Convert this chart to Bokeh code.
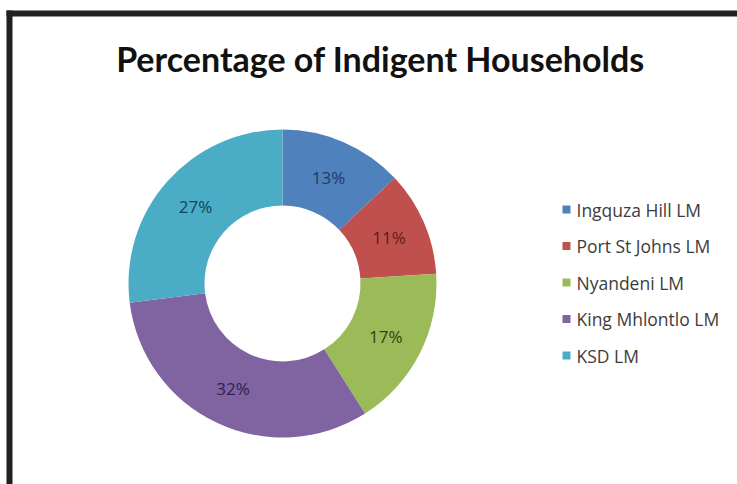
import math

from bokeh.core.properties import value
from bokeh.embed import file_html
from bokeh.models import BoxAnnotation, ColumnDataSource, Range1d
from bokeh.plotting import figure
from bokeh.resources import INLINE

# ---- data -------------------------------------------------------------
title = "Percentage of Indigent Households"
municipalities = ["Ingquza Hill LM", "Port St Johns LM", "Nyandeni LM",
                  "King Mhlontlo LM", "KSD LM"]
shares = [13, 11, 17, 32, 27]  # percent of indigent households
slice_colors = ["#4F81BD", "#C0504D", "#9BBB59", "#8064A2", "#4BACC6"]
label_colors = ["#1E3A66", "#5C1C1C", "#2F4212", "#2F2050", "#0E4557"]

# ---- canvas (1 data unit == 1 screen pixel, y measured from the top) ---
W, H = 737, 484


def sy(y_from_top):
    return H - y_from_top


p = figure(width=W, height=H, output_backend="svg", toolbar_location=None,
           x_range=Range1d(0, W), y_range=Range1d(0, H),
           min_border=0, min_border_left=0, min_border_right=0,
           min_border_top=0, min_border_bottom=0)
p.axis.visible = False
p.grid.visible = False
p.outline_line_color = None
p.background_fill_color = "white"
p.border_fill_color = "white"

# dark frame along the top and left edge
p.add_layout(BoxAnnotation(left=6, right=W, top=sy(10), bottom=sy(16),
                           fill_color="#231F20", fill_alpha=1, line_color=None))
p.add_layout(BoxAnnotation(left=6, right=12, top=sy(10), bottom=0,
                           fill_color="#231F20", fill_alpha=1, line_color=None))

# ---- title ------------------------------------------------------------
p.text(x=[380], y=[sy(58)], text=[title], text_font=value("Lato"),
       text_font_style="bold", text_font_size="34px", text_color="#111111",
       text_align="center", text_baseline="alphabetic")

# ---- donut ------------------------------------------------------------
cx, cy = 282, sy(283)
r_in, r_out = 78, 154
total = float(sum(shares))

starts, ends, mids = [], [], []
acc = 0.0
for s in shares:
    a0 = acc / total * 2 * math.pi          # clockwise from 12 o'clock
    acc += s
    a1 = acc / total * 2 * math.pi
    starts.append(math.pi / 2 - a1)
    ends.append(math.pi / 2 - a0)
    mids.append((a0 + a1) / 2)

src = ColumnDataSource(dict(name=municipalities, share=shares, color=slice_colors,
                            start=starts, end=ends))
p.annular_wedge(x=cx, y=cy, inner_radius=r_in, outer_radius=r_out,
                start_angle="start", end_angle="end", direction="anticlock",
                fill_color="color", line_color=None, source=src)

r_lab = (r_in + r_out) / 2
lab = ColumnDataSource(dict(
    x=[cx + r_lab * math.sin(m) for m in mids],
    y=[cy + r_lab * math.cos(m) for m in mids],
    text=[f"{s}%" for s in shares],
    color=label_colors))
p.text(x="x", y="y", text="text", text_color="color", source=lab,
       text_font=value("Open Sans"), text_font_size="17px",
       text_align="center", text_baseline="middle")

# ---- legend -----------------------------------------------------------
leg_top, leg_step = 209, 36.5
leg = ColumnDataSource(dict(
    y=[sy(leg_top + i * leg_step) for i in range(len(municipalities))],
    name=municipalities, color=slice_colors))
p.rect(x=566, y="y", width=8, height=8, fill_color="color", line_color=None,
       source=leg)
p.text(x=576, y="y", text="name", source=leg, text_color="#3C3C3C",
       text_font=value("Open Sans"), text_font_size="17.5px",
       text_align="left", text_baseline="middle")

open("out.html", "w").write(file_html(p, INLINE))
